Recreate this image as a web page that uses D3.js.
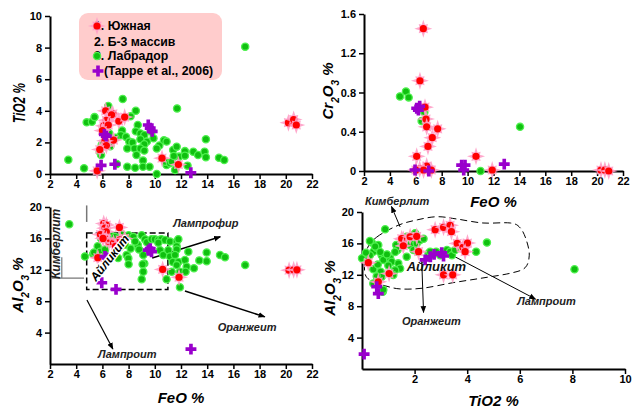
<!DOCTYPE html>
<html lang="ru">
<head>
<meta charset="UTF-8">
<title>FeO - TiO2 - Cr2O3 - Al2O3</title>
<script src="https://d3js.org/d3.v7.min.js"></script>
<style>
  body { margin: 0; background: #fff; }
  svg { display: block; font-family: "Liberation Sans", Arial, sans-serif; }
  .tick text { font-size: 11px; font-weight: bold; fill: #000; }
  .domain { stroke: #000; stroke-width: 2; }
  .tick line { stroke: #000; stroke-width: 1.5; }
  .title { font-size: 15px; font-weight: bold; font-style: italic; fill: #000; }
  .note { font-size: 11px; font-weight: bold; font-style: italic; fill: #222; }
  .legend text { font-size: 12.3px; font-weight: bold; fill: #000; }
</style>
</head>
<body>
<div id="chart"></div>
<script>
// --- data: [x, y] pairs ---

// FeO vs TiO2
const southFeoTio2 = [[6.25,4.0],[6.8,3.8],[7.25,3.35],[7.7,3.6],[6.7,3.75],[6.3,3.4],[6.1,3.05],[6.45,3.1],
  [6.0,2.75],[6.85,2.15],[6.2,2.1],[6.3,1.8],[5.8,1.55],[5.6,0.2],[10.55,1.0],[11.8,0.6],[20.2,3.25],[20.6,3.45],[20.8,3.1]];
const labradorFeoTio2 = [[3.4,0.9],[4.6,0.36],[4.8,3.27],[5.2,3.3],[5.4,3.6],[6.45,4.3],[7.55,4.75],[8.55,4.0],
  [8.15,3.65],[11.7,4.15],[16.9,8.06],[8.7,3.1],[7.5,2.75],[7.4,2.45],[7.8,2.35],[8.05,2.05],[8.55,2.7],[8.9,2.57],
  [9.2,2.47],[8.9,2.2],[9.4,2.05],[8.3,2.0],[9.2,1.88],[7.9,1.62],[8.45,1.62],[8.9,1.62],[8.6,1.2],[9.2,1.48],
  [9.9,2.26],[9.75,2.68],[10.35,1.8],[10.15,1.62],[10.7,2.13],[10.9,2.05],[9.1,0.85],[9.1,0.46],[9.6,0.46],[8.5,0.4],
  [7.9,0.46],[7.1,0.63],[10.15,0],[10.9,0.57],[10.8,0.78],[11.16,0.68],[11.3,0.78],[11.4,1.52],[11.55,0.25],
  [11.85,1.1],[11.45,1.14],[12.3,1.45],[12.3,1.16],[12.5,0.53],[11.67,1.73],[12.94,1.41],[13.3,1.2],[13.8,1.41],
  [13.9,1.06],[13.9,2.2],[14.9,1.03],[15.3,0.89],[5.95,1.84],[5.8,1.41],[5.9,1.2],[6.6,1.75],[7.0,2.3],[6.5,2.6]];
const tappeFeoTio2 = [[9.5,3.1],[9.65,2.9],[9.8,2.7],[6.15,2.5],[6.3,2.4],[5.9,0.55],[6.95,0.62],[12.75,0.08]];

// FeO vs Cr2O3
const southFeoCr2o3 = [[6.58,1.45],[6.32,0.92],[6.71,0.65],[6.79,0.53],[6.84,0.45],[7.69,0.43],[7.27,0.34],[6.94,0.25],
  [6.07,0.15],[10.65,0.15],[6.84,0.05],[6.3,0.02],[6.0,0.01],[7.2,0.01],[6.6,0.01],[11.9,0.01],[20.3,0.01],[20.6,0.01],[20.9,0.0]];
const labradorFeoCr2o3 = [[4.78,0.76],[5.24,0.81],[5.45,0.75],[6.66,0.6],[6.45,0.51],[14.05,0.45],[11.0,0.0]];
const tappeFeoCr2o3 = [[6.07,0.64],[6.3,0.66],[6.2,0.62],[5.94,0.01],[7.0,0.0],[9.54,0.06],[9.8,0.06],[9.7,0.01],[12.83,0.07]];

// FeO vs Al2O3
const southFeoAl2o3 = [[6.1,17.9],[6.3,17.7],[6.2,17.3],[7.3,17.4],[6.3,16.85],[5.85,16.5],[6.3,15.9],[6.5,15.6],
  [6.85,15.4],[7.35,15.8],[7.7,16.0],[5.65,13.55],[10.6,12.05],[11.85,11.05],[20.25,11.95],[20.6,12.0],[20.85,12.0],[6.05,16.0],[7.0,15.0]];
const labradorFeoAl2o3 = [[3.47,17.8],[4.67,13.7],[5.3,14.0],[5.64,15.0],[5.36,14.2],[5.82,14.3],[6.58,15.4],[6.7,16.3],
  [6.96,16.2],[7.34,14.9],[7.73,15.2],[7.2,13.5],[7.85,13.9],[7.98,13.46],[8.0,12.7],[8.16,14.7],[8.0,16.4],[8.36,16.2],
  [8.7,15.2],[8.8,14.6],[9.0,16.4],[9.25,15.9],[9.4,15.5],[9.12,13.9],[9.2,12.8],[9.07,12.7],[9.12,11.76],[9.0,10.8],
  [9.76,15.9],[10.0,15.9],[10.27,15.8],[10.5,15.9],[10.78,15.8],[10.27,15.45],[10.4,14.5],[10.65,13.9],[11.16,15.6],
  [11.03,14.5],[11.16,13.7],[11.37,13.0],[11.29,11.76],[10.9,10.8],[11.67,15.6],[11.8,15.9],[11.67,15.0],[11.67,14.6],
  [11.54,13.9],[11.8,13.0],[11.67,12.6],[11.92,11.76],[11.92,9.77],[12.3,13.25],[12.43,12.4],[12.35,11.76],[12.56,14.3],
  [12.99,12.2],[13.4,13.2],[13.96,14.2],[13.96,13.1],[14.98,13.9],[15.36,13.6],[16.9,12.6],[8.5,15.6],[7.5,16.5],[6.2,14.6],[5.9,16.0]];
const tappeFeoAl2o3 = [[6.2,13.7],[6.35,13.5],[5.95,10.35],[7.04,9.5],[9.5,14.5],[9.65,14.7],[9.75,14.3],[12.76,1.9]];

// TiO2 vs Al2O3
const southTio2Al2o3 = [[0.24,13.55],[0.62,11.1],[1.03,12.15],[1.57,16.5],[1.51,16.6],[1.57,15.7],[1.83,16.85],[2.08,16.9],
  [2.15,14.94],[2.78,17.75],[3.1,18.05],[3.35,18.3],[3.4,17.5],[3.62,16.0],[3.84,15.5],[4.01,16.05],[3.92,14.94],[3.1,12.0],[3.45,12.0]];
const labradorTio2Al2o3 = [[0.0,14.1],[0.37,16.1],[0.3,16.3],[0.88,17.8],[0.43,14.94],[0.3,14.5],[0.56,15.4],[0.62,15.8],
  [0.5,15.6],[0.43,12.7],[0.75,14.5],[0.81,13.9],[1.07,14.1],[1.13,13.67],[0.71,12.4],[0.75,11.76],[0.56,11.8],[0.43,10.9],
  [0.79,9.85],[0.81,10.1],[1.38,13.46],[1.45,12.8],[1.26,12.6],[1.19,11.97],[1.3,15.8],[1.35,15.16],[1.26,14.9],[1.51,15.9],
  [1.7,16.85],[1.89,16.85],[1.96,16.2],[1.83,15.8],[2.08,16.0],[2.2,16.4],[2.34,16.6],[2.02,17.3],[1.7,14.3],[1.96,15.16],
  [2.12,14.94],[2.53,14.7],[2.59,14.94],[2.82,14.94],[2.97,14.5],[3.23,15.16],[3.35,14.94],[3.42,14.5],[3.54,15.16],
  [4.75,16.1],[4.34,14.94],[8.08,12.7],[0.69,14.9],[0.95,14.6],[1.0,13.2],[0.6,13.3],[0.2,13.8],[0.15,14.8]];
const tappeTio2Al2o3 = [[0.08,1.9],[0.56,10.5],[0.62,9.6],[2.4,13.9],[2.6,14.3],[2.74,14.6],[3.03,14.8],[3.1,14.4]];

// field outline (TiO2, Al2O3) in the lower right plot
const fieldOutline = [[0.18,15.16],[0.56,16.8],[1.37,18.3],[2.1,19.0],[2.86,19.4],[3.62,19.1],[4.6,18.6],[5.64,18.6],
  [6.02,17.96],[6.25,16.4],[6.36,14.5],[6.2,12.9],[5.64,12.2],[4.6,11.6],[3.47,11.0],[2.32,10.3],[1.45,10.2],
  [0.88,10.6],[0.42,11.1],[0.11,12.2]];

const legendLabels = ["1. Южная", "2. Б-3 массив", "3. Лабрадор", "(Tappe et al., 2006)"];

// --- drawing ---
const width = 632, height = 408;
const svg = d3.select("#chart").append("svg")
  .attr("width", width).attr("height", height);

svg.append("defs").append("marker")
  .attr("id", "arrow").attr("viewBox", "0 0 10 10")
  .attr("refX", 9).attr("refY", 5)
  .attr("markerWidth", 7).attr("markerHeight", 7)
  .attr("markerUnits", "userSpaceOnUse")
  .attr("orient", "auto")
  .append("path").attr("d", "M0,1L10,5L0,9Z").attr("fill", "#000");

// scales of the four plots
const x1 = d3.scaleLinear([2, 22], [50, 312]), y1 = d3.scaleLinear([0, 10], [174, 16]);
const x2 = d3.scaleLinear([2, 22], [364, 623]), y2 = d3.scaleLinear([0, 1.6], [171, 14]);
const x3 = d3.scaleLinear([2, 22], [50, 312]), y3 = d3.scaleLinear([0, 20], [364, 207]);
const x4 = d3.scaleLinear([0, 10], [362, 625]), y4 = d3.scaleLinear([0, 20], [369, 212]);

function axes(x, y, xMinor, xMajor, yMinor, yMajor, yFmt) {
  const g = svg.append("g");
  const bx = g.append("g").attr("transform", `translate(0,${y.range()[0]})`);
  bx.call(d3.axisBottom(x).tickValues(xMinor).tickFormat("").tickSize(5).tickSizeOuter(0));
  bx.call(d3.axisBottom(x).tickValues(xMajor).tickSize(5).tickSizeOuter(0).tickPadding(1));
  const ly = g.append("g").attr("transform", `translate(${x.range()[0]},0)`);
  ly.call(d3.axisLeft(y).tickValues(yMinor).tickFormat("").tickSize(5).tickSizeOuter(0));
  ly.call(d3.axisLeft(y).tickValues(yMajor).tickFormat(yFmt).tickSize(5).tickSizeOuter(0).tickPadding(3));
  g.selectAll("g").attr("font-family", null).attr("font-size", null);
}

const feoMinor = d3.range(2, 22.01, 1), feoMajor = d3.range(2, 22.01, 2);
axes(x1, y1, feoMinor, feoMajor, d3.range(0, 10.01, 1), d3.range(0, 10.01, 2), d3.format("d"));
axes(x2, y2, feoMinor, feoMajor, d3.range(0, 1.61, 0.2), [0, 0.4, 0.8, 1.2, 1.6], d => d === 0 ? "0" : d3.format(".1f")(d));
axes(x3, y3, feoMinor, feoMajor, d3.range(0, 20.01, 2), [4, 8, 12, 16, 20], d3.format("d"));
axes(x4, y4, d3.range(0, 10.01, 0.5), [2, 4, 6, 8, 10], d3.range(0, 20.01, 2), [4, 8, 12, 16, 20], d3.format("d"));

// axis titles
function vTitle(x, cy, parts, len) {
  const t = svg.append("text").attr("class", "title")
    .attr("transform", `translate(${x},${cy}) rotate(-90)`)
    .attr("text-anchor", "middle");
  parts.forEach(p => {
    const s = t.append("tspan").text(p[0]);
    if (p[1]) s.attr("baseline-shift", "sub").attr("font-size", "10px");
  });
  if (len) t.attr("textLength", len).attr("lengthAdjust", "spacingAndGlyphs");
  return t;
}
function hTitle(cx, y, txt) {
  svg.append("text").attr("class", "title").attr("x", cx).attr("y", y)
    .attr("text-anchor", "middle").text(txt);
}
vTitle(25, 103, [["TiO2 %"]], 40).style("font-size", "16px");
vTitle(333, 91, [["Cr"], ["2", 1], ["O"], ["3", 1], [" %"]]);
vTitle(23, 285, [["Al"], ["2", 1], ["O"], ["3", 1], [" %"]]);
vTitle(335, 288, [["Al"], ["2", 1], ["O"], ["3", 1], [" %"]]);
hTitle(x2(12), 207, "FeO %");
hTitle(x3(12), 403, "FeO %");
hTitle(x4(5), 406, "TiO2 %");

// annotations, lower left
const ann3 = svg.append("g");
ann3.append("rect")
  .attr("x", x3(4.8)).attr("y", y3(16.7))
  .attr("width", x3(11.0) - x3(4.8)).attr("height", y3(9.5) - y3(16.7))
  .attr("fill", "none").attr("stroke", "#000").attr("stroke-width", 1.5).attr("stroke-dasharray", "6,3");
ann3.append("line").attr("x1", x3(4.8)).attr("x2", x3(4.8)).attr("y1", y3(20.2)).attr("y2", y3(18.1))
  .attr("stroke", "#777").attr("stroke-width", 1.5);
ann3.append("line").attr("x1", x3(2.15)).attr("x2", x3(4.6)).attr("y1", y3(10.95)).attr("y2", y3(10.95))
  .attr("stroke", "#777").attr("stroke-width", 1.2);
ann3.append("line").attr("x1", x3(2.9)).attr("x2", x3(2.9)).attr("y1", y3(13.6)).attr("y2", y3(10.95))
  .attr("stroke", "#777").attr("stroke-width", 1.2);
ann3.append("text").attr("class", "note")
  .attr("transform", `translate(${x3(2.76)},${y3(15.3)}) rotate(-90)`)
  .attr("text-anchor", "middle").style("font-size", "12px").text("Кимберлит");

function arrow(g, x, y, a, b, w) {
  g.append("line").attr("x1", x(a[0])).attr("y1", y(a[1])).attr("x2", x(b[0])).attr("y2", y(b[1]))
    .attr("stroke", "#000").attr("stroke-width", w).attr("marker-end", "url(#arrow)");
}
arrow(ann3, x3, y3, [9.8, 13.5], [15.0, 16.2], 1.5);
arrow(ann3, x3, y3, [12.3, 9.3], [18.4, 6.0], 1.5);
arrow(ann3, x3, y3, [4.82, 8.15], [6.8, 1.9], 1.2);
ann3.append("text").attr("class", "note").attr("x", x3(11.4)).attr("y", y3(17.5)).text("Лампрофир");
ann3.append("text").attr("class", "note").attr("x", x3(14.8)).attr("y", y3(4.25)).text("Оранжеит");
ann3.append("text").attr("class", "note").attr("x", x3(5.66)).attr("y", y3(0.8)).text("Лампроит");

// annotations, lower right
const ann4 = svg.append("g");
ann4.append("path")
  .attr("d", d3.line().x(d => x4(d[0])).y(d => y4(d[1])).curve(d3.curveCardinalClosed)(fieldOutline))
  .attr("fill", "none").attr("stroke", "#000").attr("stroke-width", 1).attr("stroke-dasharray", "7,4");
arrow(ann4, x4, y4, [1.45, 18.1], [1.12, 20.7], 1);
arrow(ann4, x4, y4, [2.27, 13.9], [2.34, 7.2], 1);
arrow(ann4, x4, y4, [3.42, 14.5], [6.6, 8.9], 1);
ann4.append("text").attr("class", "note").attr("x", x4(0.11)).attr("y", y4(20.9)).text("Кимберлит");
ann4.append("text").attr("class", "note").attr("x", x4(1.52)).attr("y", y4(5.55)).text("Оранжеит");
ann4.append("text").attr("class", "note").attr("x", x4(5.9)).attr("y", y4(8.2)).text("Лампроит");

// markers
const sparkle = (() => {
  const pts = [];
  for (let i = 0; i < 16; i++) {
    const a = i * Math.PI / 8;
    const r = i % 4 === 0 ? 9 : (i % 4 === 2 ? 6.5 : 4.2);
    pts.push([r * Math.sin(a), -r * Math.cos(a)]);
  }
  return "M" + pts.map(p => p.join(",")).join("L") + "Z";
})();
const crossPath = d3.symbol(d3.symbolCross, 66)();

function southMark(sel) {
  sel.append("path").attr("d", sparkle).attr("fill", "#ff9fc6").attr("opacity", 0.9);
  sel.append("circle").attr("r", 3.6).attr("fill", "#ff0000");
}

function plot(x, y, south, labrador, tappe) {
  const g = svg.append("g");
  g.selectAll(".lab").data(labrador).join("circle")
    .attr("cx", d => x(d[0])).attr("cy", d => y(d[1])).attr("r", 3.6)
    .attr("fill", "#10c010").attr("stroke", "#4ef04e").attr("stroke-width", 1.3);
  g.selectAll(".south").data(south).join("g")
    .attr("transform", d => `translate(${x(d[0])},${y(d[1])})`)
    .call(southMark);
  g.selectAll(".tappe").data(tappe).join("path")
    .attr("transform", d => `translate(${x(d[0])},${y(d[1])})`)
    .attr("d", crossPath).attr("fill", "#9900cc");
}
plot(x1, y1, southFeoTio2, labradorFeoTio2, tappeFeoTio2);
plot(x2, y2, southFeoCr2o3, labradorFeoCr2o3, tappeFeoCr2o3);
plot(x3, y3, southFeoAl2o3, labradorFeoAl2o3, tappeFeoAl2o3);
plot(x4, y4, southTio2Al2o3, labradorTio2Al2o3, tappeTio2Al2o3);

// labels drawn on top of the points
svg.append("text").attr("class", "note")
  .attr("transform", `translate(${x3(6.8)},${y3(13.2)}) rotate(-52)`)
  .attr("text-anchor", "middle")
  .style("font-size", "12px").style("fill", "#000")
  .attr("stroke", "#fff").attr("stroke-width", 2.5).attr("paint-order", "stroke")
  .text("Айликит");
svg.append("text").attr("class", "note")
  .attr("x", x4(1.7)).attr("y", y4(12.5))
  .style("font-size", "13px").style("fill", "#111")
  .text("Айликит");

// legend
const leg = svg.append("g").attr("class", "legend");
leg.append("rect").attr("x", 79).attr("y", 13).attr("width", 143).attr("height", 67)
  .attr("rx", 9).attr("fill", "#ffcccc");
const rowY = [26, 42, 56, 71];
leg.selectAll("text").data(legendLabels).join("text")
  .attr("x", (d, i) => i === 3 ? 104 : 94)
  .attr("y", (d, i) => rowY[i] + 4)
  .text(d => d);
leg.append("g").attr("transform", `translate(97,${rowY[0]})`).call(southMark);
leg.append("circle").attr("cx", 97).attr("cy", rowY[2]).attr("r", 3.6)
  .attr("fill", "#10c010").attr("stroke", "#4ef04e").attr("stroke-width", 1.3);
leg.append("path").attr("transform", `translate(98,${rowY[3]})`).attr("d", crossPath).attr("fill", "#9900cc");
</script>
</body>
</html>
